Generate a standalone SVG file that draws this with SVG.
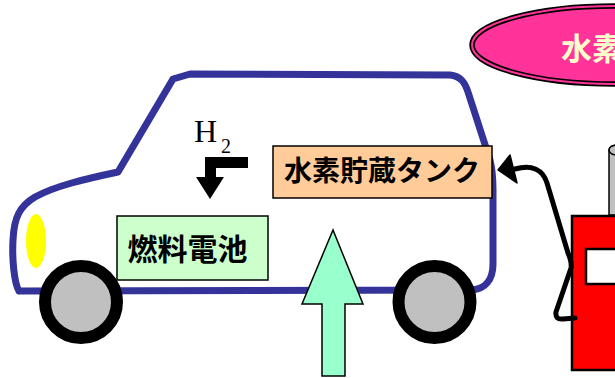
<svg xmlns="http://www.w3.org/2000/svg" width="615" height="378" viewBox="0 0 615 378">
  <style>
    .body { fill: none; stroke: #333399; stroke-width: 7; stroke-linecap: round; stroke-linejoin: round; }
    .wheel { fill: #c0c0c0; stroke: #000; stroke-width: 12; }
    .box { stroke: #000; stroke-width: 1.5; }
    .jp { font-family: "Noto Sans CJK JP", "Noto Sans", sans-serif; font-weight: bold; }
    .serif { font-family: "Liberation Serif", serif; fill: #000; }
    .hose { fill: none; stroke: #000; stroke-width: 5; stroke-linecap: round; stroke-linejoin: round; }
  </style>

  <rect width="615" height="378" fill="#fff"/>

  <!-- hydrogen station sign -->
  <g id="station-sign">
    <ellipse cx="615" cy="45" rx="143" ry="39" fill="#ff3399" stroke="#000" stroke-width="5.5"/>
    <ellipse cx="615" cy="45" rx="143" ry="39" fill="none" stroke="#ff3399" stroke-width="2"/>
    <text class="jp" x="561" y="60" font-size="31" fill="#ffffcc">水素</text>
  </g>

  <!-- vehicle -->
  <g id="car">
    <path class="body" d="M 19 291 C 14 283, 12 258, 13 240 C 14 217, 20 206, 35 197 C 55 186, 85 179, 118 172 L 173 79 L 190 74 L 450 75 C 461 76, 465 83, 468 92 L 490 160 C 492 168, 493 178, 493 190 L 493 264 C 493 280, 485 289, 472 290 L 19 291"/>
    <ellipse cx="36" cy="241" rx="10" ry="27" fill="#ffff00"/>
    <circle class="wheel" cx="81" cy="302" r="36"/>
    <circle class="wheel" cx="434.5" cy="302" r="36"/>
  </g>

  <!-- fuel cell -->
  <g id="fuel-cell">
    <rect class="box" x="117" y="216" width="151" height="64" fill="#ccffcc"/>
    <text class="jp" x="187.5" y="260" font-size="30" text-anchor="middle" fill="#000">燃料電池</text>
  </g>

  <!-- hydrogen tank -->
  <g id="tank">
    <rect class="box" x="273" y="146" width="219" height="52" fill="#ffcc99"/>
    <text class="jp" x="382" y="181" font-size="28" text-anchor="middle" fill="#000">水素貯蔵タンク</text>
  </g>

  <!-- H2 label -->
  <g id="h2-label">
    <text class="serif" x="194" y="142" font-size="32">H</text>
    <text class="serif" x="221" y="153" font-size="20">2</text>
  </g>

  <!-- dispenser -->
  <g id="pump">
    <path d="M 609 215 L 609 150 A 8 5 0 0 1 625 150 L 625 215 Z" fill="#c0c0c0" stroke="#000" stroke-width="1.5"/>
    <ellipse cx="617" cy="150" rx="8" ry="5" fill="#c0c0c0" stroke="#000" stroke-width="1.5"/>
    <rect x="572" y="216" width="60" height="154" fill="#ff0000" stroke="#000" stroke-width="2.5"/>
    <rect x="586" y="249" width="40" height="35" fill="#fff" stroke="#000" stroke-width="2.5"/>
  </g>

  <!-- flows -->
  <g id="connectors">
    <!-- H2 feed from tank to fuel cell -->
    <polygon points="248,157 248,168 216,168 216,177 224,177 210,199 196,177 205,177 205,157" fill="#000"/>
    <!-- refuelling hose -->
    <path class="hose" d="M 515 169 C 532 164, 543 170, 547 183 L 568 253 Q 572 262 571 268 L 556 312 Q 555 320 563 319 L 575 318"/>
    <polygon points="498,170 510,155 517,183" fill="#000" stroke="#000" stroke-width="1.5" stroke-linejoin="round"/>
    <!-- supply arrow -->
    <polygon points="333,230 363,304 345,304 345,376 322,376 322,304 302,304" fill="#99ffcc" stroke="#000" stroke-width="1.5" stroke-linejoin="miter"/>
  </g>
</svg>
